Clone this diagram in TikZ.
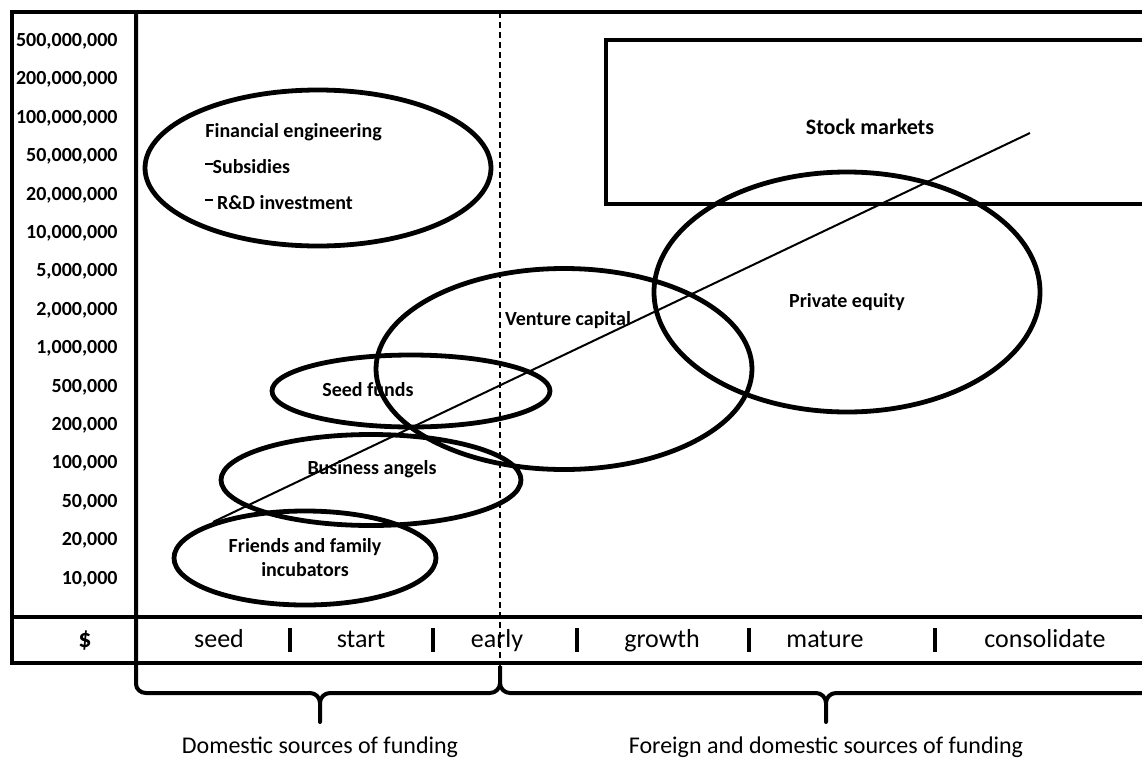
\documentclass[tikz,border=0pt]{standalone}
\usepackage{fontspec}
\setmainfont{Carlito}
\usetikzlibrary{shapes.geometric,positioning}
\newcommand{\updash}{\raisebox{0.44em}{\rule{0.36em}{0.1em}}}
\tikzset{
  frame/.style={line width=2pt},
  fund/.style={ellipse, draw, line width=2.4pt, inner sep=0pt},
  fund_t/.style={font=\fontsize{10}{12}\selectfont\bfseries, align=center, inner sep=0pt},
  ylab/.style={font=\fontsize{10}{12}\selectfont\bfseries, anchor=base east, inner sep=0pt},
  stage/.style={font=\fontsize{13}{15}\selectfont, anchor=base, inner sep=0pt},
  sep/.style={line width=2pt},
  src/.style={font=\fontsize{12}{14}\selectfont, inner sep=0pt}
}

\begin{document}
\begin{tikzpicture}[x=0.5pt,y=-0.5pt]
\useasboundingbox (0,0) rectangle (1142,761);
\clip (0,0) rectangle (1142,761);

% frame and axis row
\draw[frame] (1160,12) -- (12,12) -- (12,663) -- (1160,663);
\draw[frame] (12,617) -- (1160,617);
\draw[line width=0.6pt, dash pattern=on 3pt off 2pt] (500,12) -- (500,668);

% y axis
\foreach \v [count=\i from 0] in {{500,000,000},{200,000,000},{100,000,000},
  {50,000,000},{20,000,000},{10,000,000},{5,000,000},{2,000,000},{1,000,000},
  {500,000},{200,000},{100,000},{50,000},{20,000},{10,000}}
  \node[ylab] (y\i) at (118,{46.5+38.4*\i}) {\v};

% stages
\node[stage, font=\fontsize{13}{15}\selectfont\bfseries] (cur) at (85,647) {\$};
\foreach \s/\x [count=\i] in {seed/219,start/361,early/497,growth/662,mature/825,consolidate/1045}
  \node[stage] (st\i) at (\x,647) {\s};
\foreach \x in {290,433,577,749,935}
  \draw[sep] (\x,628) -- (\x,652);

% brackets
\coordinate (dtip) at (320,722);
\coordinate (ftip) at (826,722);
\draw[frame, line join=round] (136,12) -- (136,684) to[out=-90,in=180] (146,693) -- (310,693)
  to[out=0,in=90] (320,703) -- (dtip) -- (320,703) to[out=90,in=180] (330,693) -- (490,693)
  to[out=0,in=-90] (500,683) -- (500,666);
\draw[frame, line join=round] (500,683) to[out=-90,in=180] (510,693) -- (816,693)
  to[out=0,in=90] (826,703) -- (ftip) -- (826,703) to[out=90,in=180] (836,693) -- (1160,693);
\node[src, below=7pt of dtip] (dom) {Domestic sources of funding};
\node[src, below=7pt of ftip] (for) {Foreign and domestic sources of funding};

% funding sources
\draw[frame] (606,40) rectangle (1160,204);
\node[fund_t, font=\fontsize{11}{13}\selectfont\bfseries] (sm) at (870,127) {Stock markets};

\node[fund, minimum width=173pt, minimum height=78pt] (fe) at (318,168) {};
\node[fund_t, anchor=west, align=left, font=\fontsize{10}{18}\selectfont\bfseries] (fe_t) at (205,167)
  {Financial engineering\\\updash Subsidies\\\updash\ R\&D investment};

\node[fund, minimum width=193pt, minimum height=120pt] (pe) at (847,292) {};
\node[fund_t] (pe_t) at (847,302) {Private equity};

\node[fund, minimum width=188pt, minimum height=100.5pt] (vc) at (564,369) {};
\node[fund_t] (vc_t) at (568,320) {Venture capital};

\node[fund, minimum width=139pt, minimum height=36pt] (sf) at (411,391) {};
\node[fund_t] (sf_t) at (368,390) {Seed funds};

\node[fund, minimum width=150pt, minimum height=45.5pt] (ba) at (371,480) {};
\node[fund_t] (ba_t) at (372,469) {Business angels};

\node[fund, minimum width=131pt, minimum height=47pt] (ff) at (305,558) {};
\node[fund_t] (ff_t) at (305,558) {Friends and family\\incubators};

% trend
\coordinate (tr_a) at (213,522);
\coordinate (tr_b) at (1030,133);
\draw[line width=1pt] (tr_a) -- (tr_b);
\end{tikzpicture}
\end{document}
